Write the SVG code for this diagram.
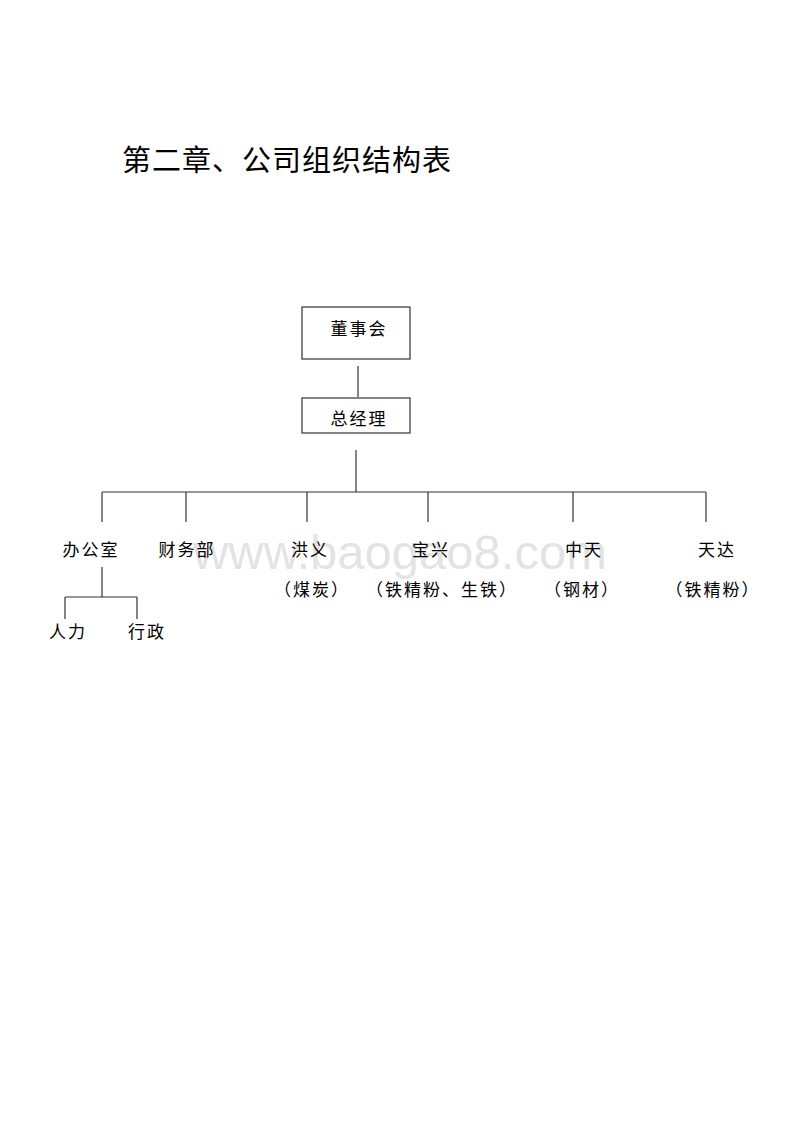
<svg xmlns="http://www.w3.org/2000/svg" width="800" height="1132" viewBox="0 0 800 1132">
<style>
.t{font-family:"Liberation Sans","Noto Sans CJK SC",sans-serif;font-size:17px;fill:#000;text-anchor:middle;letter-spacing:2px}
.title{font-family:"Liberation Sans","Noto Sans CJK SC",sans-serif;font-size:29px;fill:#000;letter-spacing:1px}
.box{fill:#fff;stroke:#333;stroke-width:1.2}
.ln{stroke:#333;stroke-width:1.2;fill:none}
.wm{font-family:"Liberation Sans",Arial,sans-serif;font-size:49px;fill:#e3e3e3;text-anchor:middle}
</style>
<rect width="800" height="1132" fill="#fff"/>
<text class="title" x="122" y="171">第二章、公司组织结构表</text>
<text class="wm" x="400" y="569">www.baogao8.com</text>
<g id="connectors">
<line class="ln" x1="358" y1="366" x2="358" y2="397"/>
<line class="ln" x1="356" y1="450" x2="356" y2="492"/>
<line class="ln" x1="102" y1="492" x2="706" y2="492"/>
<line class="ln" x1="102" y1="492" x2="102" y2="522"/>
<line class="ln" x1="186" y1="492" x2="186" y2="522"/>
<line class="ln" x1="307" y1="492" x2="307" y2="522"/>
<line class="ln" x1="428" y1="492" x2="428" y2="522"/>
<line class="ln" x1="573" y1="492" x2="573" y2="522"/>
<line class="ln" x1="706" y1="492" x2="706" y2="522"/>
<line class="ln" x1="102" y1="567" x2="102" y2="597"/>
<line class="ln" x1="65" y1="597" x2="137" y2="597"/>
<line class="ln" x1="65" y1="597" x2="65" y2="619"/>
<line class="ln" x1="137" y1="597" x2="137" y2="619"/>
</g>
<g id="n-dongshihui">
<rect class="box" x="302" y="307" width="108" height="52"/>
<text class="t" x="359" y="335">董事会</text>
</g>
<g id="n-zongjingli">
<rect class="box" x="302" y="398" width="108" height="35"/>
<text class="t" x="359" y="425">总经理</text>
</g>
<g id="n-bangongshi"><text class="t" x="91" y="556">办公室</text></g>
<g id="n-caiwubu"><text class="t" x="187" y="556">财务部</text></g>
<g id="n-hongyi"><text class="t" x="310" y="556">洪义</text><text class="t" x="312" y="596">（煤炭）</text></g>
<g id="n-baoxing"><text class="t" x="431" y="556">宝兴</text><text class="t" x="442" y="596">（铁精粉、生铁）</text></g>
<g id="n-zhongtian"><text class="t" x="584" y="556">中天</text><text class="t" x="582" y="596">（钢材）</text></g>
<g id="n-tianda"><text class="t" x="717" y="556">天达</text><text class="t" x="713" y="596">（铁精粉）</text></g>
<g id="n-renli"><text class="t" x="68" y="638">人力</text></g>
<g id="n-xingzheng"><text class="t" x="147" y="638">行政</text></g>
</svg>
